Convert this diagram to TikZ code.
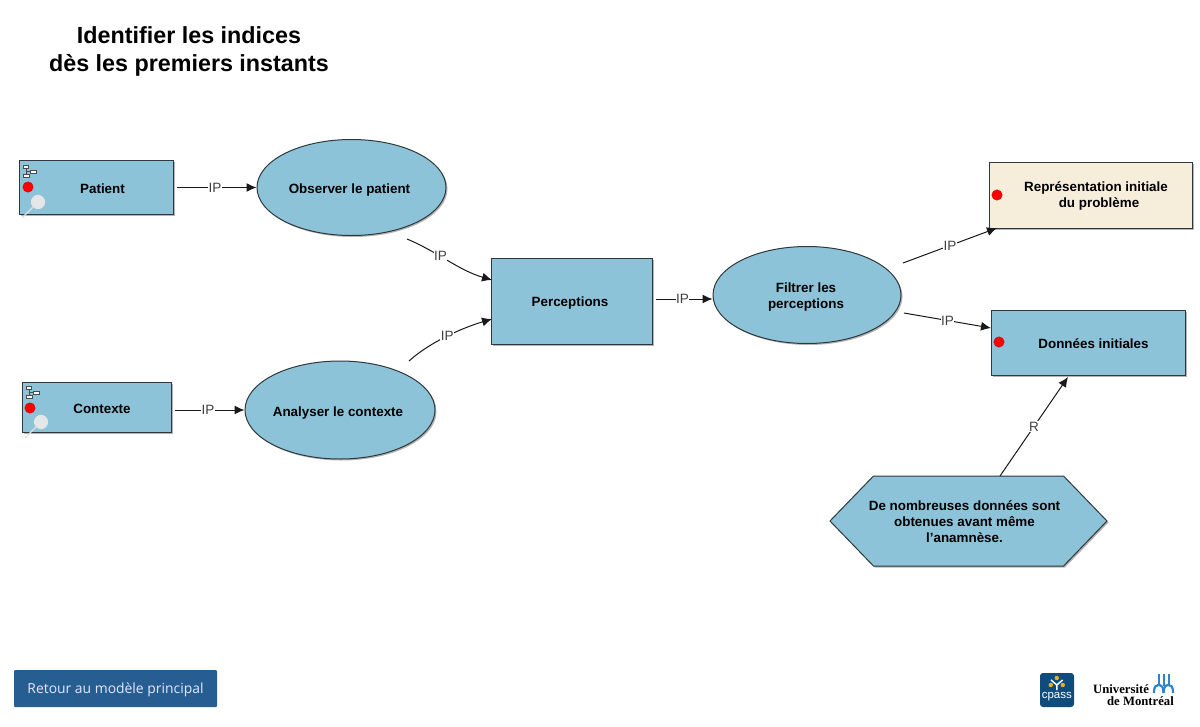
\documentclass[tikz,border=0pt]{standalone}
\usepackage{fontspec}
\setmainfont{Liberation Sans}
\newfontfamily\logoserif{Liberation Serif}
\newfontfamily\btnfont{Open Sans}
\usetikzlibrary{shapes.geometric,shapes.symbols,shadows,arrows.meta}
\definecolor{boxblue}{HTML}{8DC3D8}
\definecolor{boxcream}{HTML}{F6EDDB}
\definecolor{edgegray}{HTML}{2F383D}
\definecolor{btnblue}{HTML}{265E92}
\definecolor{logoblue}{HTML}{0F4C7E}
\definecolor{logogold}{HTML}{E3AE2B}
\definecolor{umblue}{HTML}{2F83CC}
\tikzset{
  boxshadow/.style={drop shadow={shadow xshift=1.5pt,shadow yshift=-1.5pt,fill=black!50,opacity=.6}},
  boxtext/.style={align=center,font=\fontsize{13.4}{16}\selectfont\bfseries,inner sep=0pt},
  modelbox/.style={draw=edgegray,line width=1pt,fill=boxblue,boxshadow,boxtext},
  modelell/.style={modelbox,ellipse},
  modelhex/.style={modelbox,signal,signal from=nowhere,signal to=east and west,signal pointer angle=92},
  conn/.style={draw=black!90,line width=1pt,-{Latex[length=10pt,width=9pt]}},
  linklabel/.style={fill=white,inner sep=.5pt,text=black!75,font=\fontsize{13.5}{14}\selectfont},
  reddot/.style={circle,fill=red,draw=red!70!black,line width=.3pt,minimum size=10.5pt,inner sep=0pt},
}
\begin{document}
\begin{tikzpicture}[x=1pt,y=-1pt]
\useasboundingbox (0,0) rectangle (1200,726);

% ---- Title ----
\node[align=center,font=\fontsize{23.3}{28}\selectfont\bfseries] (title) at (189,51)
  {Identifier les indices\\dès les premiers instants};

% ---- Boxes ----
\node[modelbox,minimum width=154pt,minimum height=54pt] (patient) at (96,187.5) {};
\node[boxtext] (patienttxt) at (102.5,189) {Patient};
\node[modelbox,minimum width=149pt,minimum height=50pt] (contexte) at (96.5,407) {};
\node[boxtext] (contextetxt) at (102,408.5) {Contexte};
\node[modelbox,minimum width=161pt,minimum height=86pt] (perceptions) at (571.5,301) {};
\node[boxtext] (perceptionstxt) at (570,303) {Perceptions};
\node[modelbox,fill=boxcream,minimum width=203pt,minimum height=66pt] (representation) at (1090.5,195) {};
\node[boxtext] (representationtxt) at (1096,196) {Représentation initiale\\\hspace{6pt}du problème};
\node[modelbox,minimum width=194pt,minimum height=65pt] (donnees) at (1088,342.5) {};
\node[boxtext] (donneestxt) at (1093.5,344) {Données initiales};

% ---- Ellipses ----
\node[modelell,minimum width=189pt,minimum height=96pt] (observer) at (351.5,187.5) {};
\node[boxtext] (observertxt) at (349.5,190) {Observer le patient};
\node[modelell,minimum width=190pt,minimum height=98pt] (analyser) at (340,410) {};
\node[boxtext] (analysertxt) at (338,413) {Analyser le contexte};
\node[modelell,minimum width=188pt,minimum height=97pt] (filtrer) at (807,295) {};
\node[boxtext] (filtrertxt) at (806,297.5) {Filtrer les\\perceptions};

% ---- Hexagon ----
\node[modelhex,minimum width=277pt,minimum height=90pt] (note) at (968.5,521) {};
\node[boxtext,font=\fontsize{13.4}{16.2}\selectfont\bfseries] (notetxt) at (964.5,521.5)
  {De nombreuses données sont\\obtenues avant même\\l'anamnèse.};

% ---- Free ends of the links ----
\coordinate (obsout) at (407,239);
\coordinate (anaout) at (409,361);
\coordinate (filout) at (903,263);
\coordinate (filoutb) at (904,313);
\coordinate (repin) at (997,228);
\coordinate (donin) at (991,328);
\coordinate (perin) at (492,280);
\coordinate (perinb) at (492,319);
\coordinate (donbot) at (1068,377);
\coordinate (noteout) at (1000,476);

% ---- Links ----
\draw[conn,shorten <=3pt] (patient.east) -- node[linklabel] (ipa) {IP} (observer.west);
\draw[conn,shorten <=3pt] ([yshift=-3pt]contexte.east) -- node[linklabel] (ipb) {IP} (analyser.west);
\draw[conn,shorten <=3pt] ([yshift=2pt]perceptions.east) -- node[linklabel] (ipc) {IP} ([yshift=-4pt]filtrer.west);
\draw[conn] (obsout) .. controls (438,252) and (458,270) .. node[linklabel,pos=.4] (ipd) {IP} (perin);
\draw[conn] (anaout) .. controls (430,342) and (462,328) .. node[linklabel,pos=.5] (ipe) {IP} (perinb);
\draw[conn] (filout) -- node[linklabel,pos=.5] (ipf) {IP} (repin);
\draw[conn] (filoutb) -- node[linklabel,pos=.5] (ipg) {IP} (donin);
\draw[conn] (noteout) -- node[linklabel,pos=.5] (rlink) {R} (donbot);

% ---- Red dots ----
\node[reddot] (dota) at (28,187) {};
\node[reddot] (dotb) at (30,408) {};
\node[reddot] (dotc) at (997,195) {};
\node[reddot] (dotd) at (999,342) {};

% ---- Small tree icons ----
\foreach \ox/\oy in {27/170, 30/391} {
  \draw[black!70,line width=.7pt] (\ox-1,\oy-2) -- (\ox-1,\oy+5) -- (\ox+1,\oy+5)
    (\ox-1,\oy+1) -- (\ox+6,\oy+1);
  \fill[white,draw=black!70,line width=.7pt] (\ox-3.5,\oy-5) rectangle (\ox+1,\oy-1.5);
  \fill[white,draw=black!70,line width=.7pt] (\ox+3,\oy) rectangle (\ox+9,\oy+3.5);
  \fill[white,draw=black!70,line width=.7pt] (\ox-3.5,\oy+4) rectangle (\ox+2,\oy+7.5);
}

% ---- Magnifiers ----
\foreach \ox/\oy in {38/202, 41/422} {
  \draw[white!88!black,line width=1.4pt] (\ox-5,\oy+5) -- (\ox-16,\oy+16);
  \fill[cyan!12!black!12,draw=white!90!black,line width=1.2pt] (\ox,\oy) circle (6.5pt);
}

% ---- Back button ----
\node[fill=btnblue,rounded corners=1pt,minimum width=203pt,minimum height=37pt,inner sep=0pt,text=white!90!blue,
  text depth=0pt,font=\btnfont\fontsize{13.9}{15}\selectfont] (retour) at (115.5,688.5) {Retour au modèle principal};

% ---- Logos ----
\fill[logoblue,rounded corners=3pt] (1040,673) rectangle (1074,707);
\node[text=white,font=\fontsize{11.5}{12}\selectfont,inner sep=0pt] (cpass) at (1056.8,697) {cpass};
\fill[logogold] (1056.8,678) circle (2.2pt) (1050.8,685) circle (2.2pt) (1062.8,685) circle (2.2pt);
\draw[white,line width=1.5pt] (1051,680) -- (1056.8,685) -- (1062.6,680) (1056.8,685) -- (1056.8,690);
\node[font=\logoserif\bfseries\fontsize{12.7}{13}\selectfont,inner sep=0pt,anchor=west] (univ)
  at (1093,689.5) {Université};
\node[font=\logoserif\bfseries\fontsize{12.7}{13}\selectfont,inner sep=0pt,anchor=east] (montreal)
  at (1174,701) {de Montréal};
\foreach \ux in {1158.5,1163.5,1168.5} {
  \draw[umblue,line width=2pt] (\ux,674) -- (\ux,686);
}
\draw[umblue,line width=2.2pt] (1154,693) .. controls (1154,686) and (1156,685) .. (1158.5,685)
  .. controls (1161.5,685) and (1163.5,687) .. (1163.5,693);
\draw[umblue,line width=2.2pt] (1163.5,693) .. controls (1163.5,687) and (1165.5,685) .. (1168.5,685)
  .. controls (1171,685) and (1173,686) .. (1173,693);

\end{tikzpicture}
\end{document}
